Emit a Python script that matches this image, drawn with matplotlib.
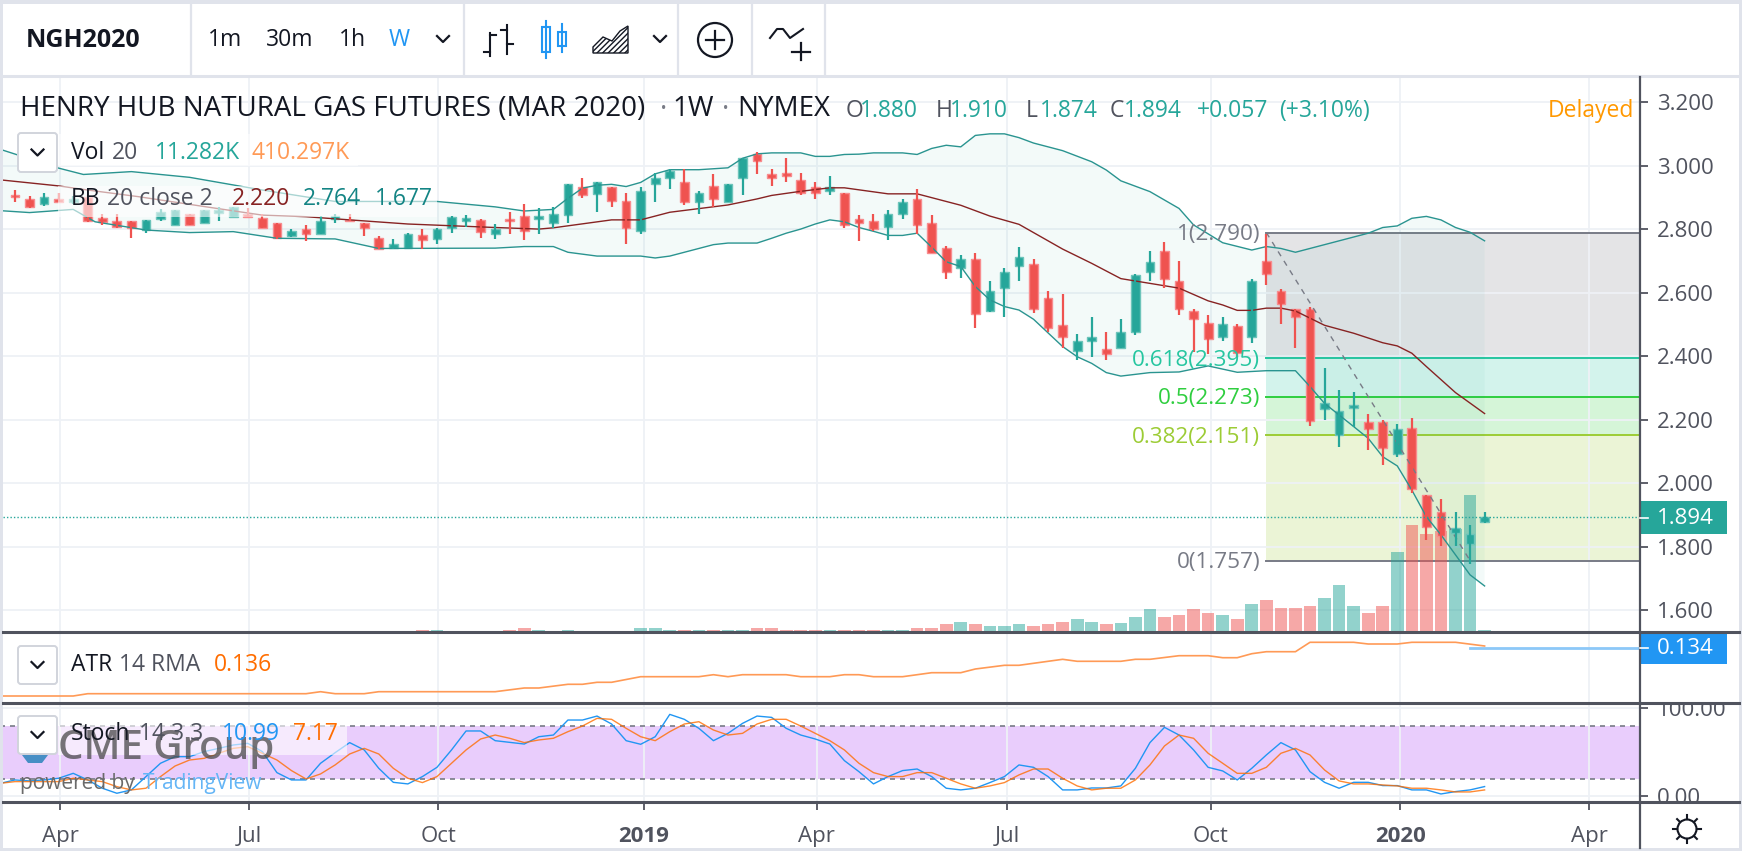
import numpy as np
import matplotlib
matplotlib.use('Agg')
import matplotlib.pyplot as plt
from matplotlib.patches import Rectangle, FancyBboxPatch, Circle

plt.rcParams['font.family'] = ['Open Sans', 'DejaVu Sans']

################### DATOS ###################

opens = [2.908,2.895,2.880,2.897,2.885,2.903,2.835,2.825,2.825,2.798,2.834,2.814,2.848,2.819,2.851,2.838,2.849,2.835,2.819,2.779,2.800,2.786,2.832,2.830,2.819,2.772,2.740,2.742,2.783,2.769,
         2.803,2.828,2.830,2.784,2.832,2.843,2.832,2.820,2.845,2.932,2.910,2.932,2.890,2.796,2.944,2.963,2.949,2.885,2.937,2.885,2.961,3.037,2.973,2.979,2.955,2.932,2.920,2.914,2.832,2.826,
         2.809,2.850,2.896,2.819,2.743,2.679,2.707,2.543,2.614,2.685,2.690,2.583,2.500,2.418,2.448,2.423,2.425,2.477,2.667,2.731,2.636,2.542,2.506,2.460,2.495,2.460,2.702,2.607,2.548,2.548,
         2.235,2.153,2.236,2.194,2.194,2.094,2.176,1.964,1.910,1.845,1.810,1.880]
closes = [2.901,2.870,2.901,2.887,2.897,2.828,2.822,2.809,2.803,2.830,2.855,2.861,2.814,2.861,2.861,2.872,2.838,2.803,2.772,2.795,2.785,2.828,2.843,2.826,2.803,2.739,2.753,2.784,2.767,2.800,
          2.838,2.835,2.792,2.800,2.826,2.796,2.843,2.849,2.943,2.909,2.949,2.891,2.803,2.920,2.961,2.984,2.885,2.914,2.896,2.943,3.025,3.016,2.961,2.968,2.914,2.914,2.932,2.814,2.820,2.802,
          2.849,2.885,2.814,2.726,2.667,2.707,2.532,2.607,2.666,2.713,2.548,2.490,2.460,2.448,2.460,2.407,2.476,2.655,2.696,2.643,2.548,2.518,2.454,2.501,2.412,2.637,2.661,2.566,2.524,2.195,
          2.252,2.229,2.247,2.170,2.112,2.170,1.981,1.864,1.835,1.858,1.840,1.894]
highs = [2.924,2.906,2.914,2.914,2.905,2.908,2.849,2.849,2.825,2.830,2.863,2.861,2.848,2.861,2.870,2.872,2.866,2.849,2.819,2.800,2.814,2.843,2.849,2.848,2.819,2.779,2.769,2.788,2.800,2.803,
         2.843,2.845,2.832,2.817,2.856,2.879,2.867,2.872,2.943,2.961,2.949,2.932,2.914,2.933,2.979,2.990,2.990,2.920,2.974,2.943,3.025,3.043,2.991,3.026,2.979,2.949,2.967,2.914,2.844,2.849,
         2.861,2.896,2.926,2.844,2.749,2.720,2.725,2.637,2.678,2.744,2.707,2.607,2.596,2.471,2.524,2.476,2.518,2.660,2.731,2.761,2.702,2.548,2.531,2.524,2.501,2.643,2.784,2.612,2.548,2.555,
         2.365,2.294,2.288,2.218,2.200,2.187,2.205,1.964,1.951,1.910,1.869,1.910]
lows = [2.885,2.867,2.874,2.885,2.880,2.822,2.814,2.803,2.772,2.790,2.825,2.814,2.814,2.819,2.825,2.838,2.838,2.803,2.769,2.775,2.762,2.784,2.819,2.825,2.779,2.738,2.738,2.740,2.738,2.754,
        2.790,2.809,2.772,2.769,2.785,2.767,2.785,2.804,2.819,2.898,2.856,2.872,2.754,2.785,2.885,2.926,2.878,2.849,2.872,2.885,2.908,2.973,2.938,2.950,2.909,2.897,2.909,2.803,2.762,2.795,
        2.767,2.832,2.785,2.726,2.643,2.648,2.489,2.541,2.525,2.637,2.536,2.478,2.425,2.389,2.399,2.389,2.425,2.466,2.636,2.614,2.531,2.415,2.407,2.448,2.399,2.441,2.625,2.501,2.425,2.182,
        2.200,2.116,2.177,2.105,2.058,2.082,1.969,1.822,1.804,1.804,1.745,1.874]
volume = [0]*28 + [10,10,0,0,0,0,10,20,10,0,10,0,0,0,0,20,20,10,10,10,10,10,10,20,20,10,10,10,10,10,10,8,
          10,10,20,20,40,48,40,30,30,40,30,40,48,67,48,38,47,77,113,77,85,113,93,85,65,140,160,122,122,132,168,235,132,93,132,402,535,488,507,517,683,11.282]

bb_up_w = [-1,3,4.7,8,12,17,22,29,33,35,37,38,39,40,41,42,43,44,45,47,49,50,51,52,54,55,56,57,58,59,61,62,63,64,65,66,67,68,69,70,72,74,75,76,78,80,81,83,85,86,87,88,93,94,95,96,97,98,99,100,101]
bb_up = [3.052,2.993,2.973,2.982,2.964,2.924,2.888,2.888,2.871,2.858,2.863,2.898,2.930,2.939,2.942,2.935,2.948,2.975,2.988,2.988,2.994,3.024,3.038,3.041,3.041,3.030,3.030,3.036,3.037,3.041,3.041,3.036,3.055,3.065,3.060,3.096,3.101,3.101,3.089,3.072,3.048,3.013,2.987,2.953,2.919,2.866,2.814,2.758,2.735,2.746,2.740,2.728,2.788,2.806,2.811,2.835,2.841,2.830,2.806,2.791,2.764]
bb_mid_w = [-1,3,5,8.5,13,17,20,23,27,33,36,37,41,43,45,49,51,52,54,56,57,60,62,65,67,69,72,74,76,78,80,82,83,84,85,86,87,88,90,92,94,95,96,97,99,101]
bb_mid = [2.956,2.937,2.924,2.903,2.872,2.845,2.840,2.830,2.817,2.806,2.801,2.805,2.830,2.830,2.854,2.877,2.896,2.907,2.920,2.931,2.931,2.912,2.912,2.876,2.842,2.816,2.738,2.693,2.645,2.630,2.615,2.575,2.562,2.545,2.545,2.552,2.552,2.543,2.498,2.473,2.443,2.433,2.410,2.368,2.286,2.220]
bb_low_w = [-1,1,4,5.5,9,12,15,18,22,25,33,35,37,38,40,43,44,45,48,49,51,52,53,54,55,56,57,58,59,60,61,62,63,64,65,66,67,68,69,70,72,73,74,75,76,78,80,82,84,86,88,89,90,92,93,94,95,96,97,98,99,100,101]
bb_low = [2.859,2.853,2.863,2.824,2.798,2.790,2.793,2.772,2.770,2.740,2.741,2.746,2.746,2.728,2.716,2.716,2.710,2.716,2.752,2.757,2.757,2.772,2.788,2.801,2.817,2.830,2.824,2.806,2.794,2.781,2.781,2.788,2.744,2.698,2.683,2.620,2.578,2.557,2.546,2.517,2.431,2.399,2.378,2.349,2.338,2.349,2.351,2.370,2.350,2.355,2.355,2.305,2.252,2.179,2.142,2.084,2.055,1.979,1.895,1.838,1.775,1.712,1.677]

atr_w = [-1,4,5,20,21,22,24,25,33,35,36,38,39,40,41,43,47,48,49,50,53,54,56,57,58,59,61,63,65,66,68,69,72,73,76,77,78,80,82,83,84,85,86,88,89,92,93,95,96,99,101]
atr = [0.086,0.086,0.0883,0.0883,0.0903,0.0883,0.0883,0.0903,0.0903,0.094,0.094,0.0977,0.0977,0.0997,0.0997,0.1053,0.1053,0.1073,0.1053,0.1073,0.1073,0.1053,0.1053,0.1073,0.1073,0.1053,0.1053,0.1093,0.1093,0.113,0.1167,0.1167,0.1227,0.1207,0.1207,0.1227,0.1227,0.1263,0.1263,0.1243,0.1243,0.1283,0.1303,0.1303,0.1397,0.1397,0.138,0.138,0.1397,0.1397,0.136]

stoch_k = [14.7,18.5,17.4,18.5,20.4,26.0,18.5,9.1,3.4,7.2,22.3,37.4,44.9,44.9,50.6,54.3,58.1,60.0,50.6,26.8,18.5,18.5,37.4,49.4,60.8,52.5,31.7,15.8,14.0,22.3,32.8,52.5,74.0,74.0,63.0,61.1,59.2,67.5,69.4,86.4,86.4,90.9,81.9,63.0,58.9,67.5,92.8,87.2,77.0,63.0,71.3,82.6,90.9,89.4,77.0,69.4,64.9,59.2,40.4,27.9,
           14.0,22.3,29.1,30.9,22.3,9.1,7.2,9.1,15.5,22.3,35.5,32.8,22.3,7.2,7.2,9.4,9.4,11.7,31.7,60.8,78.1,69.4,52.5,32.8,28.7,18.5,31.7,46.8,60.8,52.5,27.9,15.8,9.1,15.8,15.8,12.1,12.1,7.2,7.2,2.6,5.3,7.2,10.99]
stoch_d = [14.7,16.6,16.6,16.6,16.6,20.4,18.5,16.6,10.9,7.2,9.1,22.3,34.3,41.1,43.0,48.7,54.3,56.2,48.7,41.1,29.1,19.6,25.3,35.5,47.9,54.3,47.9,31.7,20.4,15.5,22.3,37.4,52.5,64.9,69.4,65.7,60.8,63.8,65.7,73.2,79.6,88.3,87.2,77.0,67.5,63.0,73.2,81.9,84.5,75.1,69.4,71.3,81.9,87.2,87.2,79.6,71.3,63.0,52.5,37.4,
           26.8,22.3,22.3,26.8,26.8,20.4,14.0,9.1,11.7,15.5,24.2,30.9,30.9,20.4,11.7,7.2,9.1,9.1,18.5,35.5,57.0,69.4,65.7,48.7,37.4,26.0,26.0,32.8,48.7,54.3,46.8,29.8,17.4,14.0,14.0,12.8,11.7,9.1,9.1,7.2,4.9,4.9,7.17]

fib_levels = [2.790, 2.395, 2.273, 2.151, 1.757]
fib_ratios = ['1', '0.618', '0.5', '0.382', '0']
fib_colors = ['#787b86', '#26c6a0', '#2fce3f', '#9ccc35', '#787b86']

price_ticks = [3.2, 3.0, 2.8, 2.6, 2.4, 2.2, 2.0, 1.8, 1.6]
time_ticks = [3.1, 16.1, 29.1, 43.2, 55.1, 68.2, 82.2, 95.2, 108.2]
time_labels = ['Apr', 'Jul', 'Oct', '2019', 'Apr', 'Jul', 'Oct', '2020', 'Apr']

last_price = 1.894
last_atr = 0.134

################### FIGURA ###################

W, H = 1746, 856
RED, GREEN = '#ef5350', '#26a69a'
GRIDC = '#eef1f6'
AXC = '#50535e'
AXIS_X = 1640
EDGE_X = 1739

fig = plt.figure(figsize=(W/100, H/100), dpi=100, facecolor='white')

def panel(y0, y1, z):
    # ejes a partir de pixeles de la imagen
    a = fig.add_axes([3/W, 1-y1/H, (AXIS_X-3)/W, (y1-y0)/H], zorder=z)
    a.patch.set_alpha(0)
    for s in a.spines.values():
        s.set_visible(False)
    a.set_xlim(-0.825, 111.68)
    return a

weeks = np.arange(len(closes))
up = [c >= o for o, c in zip(opens, closes)]
cols = [GREEN if u else RED for u in up]

# Fondo: rejilla y fibonacci
back = panel(77, 632, 1)
back.set_ylim(1.532, 3.280)
back.set_yticks([]); back.set_xticks([])
back.hlines(price_ticks, -1, 112, color=GRIDC, lw=1.3)
back.vlines(time_ticks, 1.5, 3.3, color=GRIDC, lw=1.3)
fills = ['#787b86', '#26c6a0', '#2fce3f', '#9ccc35']
for k in range(4):
    back.fill_between([86, 112], fib_levels[k+1], fib_levels[k], color=fills[k], alpha=0.2, lw=0)
for lev, c in zip(fib_levels, fib_colors):
    back.plot([86, 112], [lev, lev], color=c, lw=1.4)

# Volumen
vol = panel(77, 632, 2)
vol.set_ylim(0, 2775)
vol.set_yticks([]); vol.set_xticks([])
vol.bar(weeks, volume, width=0.87, color=cols, alpha=0.5, lw=0)

# Precio
ax = panel(77, 632, 3)
ax.set_ylim(1.532, 3.280)
ax.fill(np.r_[bb_up_w, bb_low_w[::-1]], np.r_[bb_up, bb_low[::-1]], color=GREEN, alpha=0.05, lw=0)
ax.plot(bb_up_w, bb_up, color='#2a9490', lw=1.0)
ax.plot(bb_low_w, bb_low, color='#2a9490', lw=1.0)
ax.plot(bb_mid_w, bb_mid, color='#872323', lw=1.0)
ax.plot([86, 100], [2.790, 1.757], color='#787b86', lw=1.0, ls=(0, (4, 4)))
ax.vlines(weeks, lows, highs, color=cols, lw=1.6)
body_b = np.minimum(opens, closes)
body_h = np.abs(np.array(opens) - np.array(closes))
edge = ['#6cc4ba' if u else '#f88c8f' for u in up]
ax.bar(weeks, body_h, bottom=body_b, width=0.6, color=cols, edgecolor=edge, lw=1.0)
ax.axhline(last_price, color=GREEN, lw=1, ls=(0, (1, 1.5)))
ax.yaxis.tick_right()
ax.set_yticks(price_ticks)
ax.set_yticklabels(['%.3f' % p for p in price_ticks], fontsize=16, color=AXC)
ax.tick_params(axis='y', length=6, width=1.3, color=AXC, pad=6)
ax.set_xticks([])

# ATR
pa = panel(633, 703, 3)
pa.set_ylim(0.079, 0.149)
pa.set_yticks([]); pa.set_xticks([])
pa.vlines(time_ticks, 0, 1, color=GRIDC, lw=1.3)
pa.plot(atr_w, atr, color='#ff9a56', lw=1.2)
pa.plot([100, 112], [last_atr, last_atr], color='#8cc8f8', lw=2)

# Estocastico
ps = panel(703, 802, 3)
ps.set_ylim(-6.5, 105.7)
ps.hlines([0, 100], -1, 112, color=GRIDC, lw=1.3)
ps.vlines(time_ticks, -10, 110, color=GRIDC, lw=1.3)
ps.axhspan(20, 80, color='#e9cdfc', lw=0)
ps.hlines([20, 80], -1, 112, color='#787b86', lw=1.2, ls=(0, (3, 3)))
ps.plot(np.arange(-1, 102), stoch_k, color='#2196f3', lw=1.0)
ps.plot(np.arange(-1, 102), stoch_d, color='#ff6d00', lw=1.0, alpha=0.8)
ps.yaxis.tick_right()
ps.set_yticks([0, 100])
ps.set_yticklabels(['0.00', '100.00'], fontsize=16, color=AXC)
ps.tick_params(axis='y', length=6, width=1.3, color=AXC, pad=6)
ps.set_xticks(time_ticks)
ps.set_xticklabels(time_labels, fontsize=16, color=AXC)
for lab in ps.get_xticklabels():
    if lab.get_text().startswith('20'):
        lab.set_fontweight('bold')
ps.tick_params(axis='x', length=6, width=1.3, color=AXC, pad=11)

################### CAPA SUPERIOR EN PIXELES ###################

ov = fig.add_axes([0, 0, 1, 1], zorder=6)
ov.set_xlim(0, W); ov.set_ylim(H, 0)
ov.axis('off')

def txt(x, y, s, c='#131722', size=16.5, **kw):
    ov.text(x, y+3, s, color=c, fontsize=size, va='center', **kw)

def chevron(x, y, c='#131722', w=6):
    ov.plot([x-w, x, x+w], [y-3, y+3, y-3], color=c, lw=1.6)

# marcos
ov.add_patch(Rectangle((0, 0), W, 4, color='#e0e3eb', lw=0))
ov.add_patch(Rectangle((0, 848), EDGE_X+3, 3, color='#e0e3eb', lw=0))
ov.add_patch(Rectangle((0, 0), 3, 851, color='#e0e3eb', lw=0))
ov.add_patch(Rectangle((EDGE_X, 0), 3, 851, color='#e0e3eb', lw=0))
ov.add_patch(Rectangle((EDGE_X+3, 0), W-EDGE_X-3, H, color='white', lw=0))
ov.add_patch(Rectangle((3, 4), EDGE_X-3, 71, color='white', lw=0))
ov.plot([0, EDGE_X], [76, 76], color='#e0e3eb', lw=2.2)
ov.vlines([190.5, 464, 678, 752, 825], 4, 75, color='#e0e3eb', lw=1.6)

# recortes de etiquetas del eje derecho
ov.add_patch(Rectangle((1643, 664), 96, 38, color='white', lw=0))
ov.add_patch(Rectangle((1643, 803), 96, 12, color='white', lw=0))

# barra de herramientas
txt(26, 37, 'NGH2020', size=18, fontweight='bold')
txt(225, 37, '1m', size=16.5, ha='center')
txt(290, 37, '30m', size=16.5, ha='center')
txt(352, 37, '1h', size=16.5, ha='center')
txt(399, 37, 'W', c='#2196f3', size=16.5, ha='center')
chevron(443, 39)
chevron(660, 39)
# icono barras
ov.plot([490, 490], [33, 56], color='#131722', lw=1.5)
ov.plot([484, 490], [52, 52], color='#131722', lw=1.5)
ov.plot([490, 496], [35, 35], color='#131722', lw=1.5)
ov.plot([507, 507], [25, 54], color='#131722', lw=1.5)
ov.plot([501, 507], [30, 30], color='#131722', lw=1.5)
ov.plot([507, 513], [44, 44], color='#131722', lw=1.5)
# icono velas
ov.plot([546, 546], [21, 58], color='#2196f3', lw=1.5)
ov.add_patch(Rectangle((542, 27), 8, 25, fc='white', ec='#2196f3', lw=1.5))
ov.plot([562, 562], [24, 52], color='#2196f3', lw=1.5)
ov.add_patch(Rectangle((558, 32), 8, 14, fc='white', ec='#2196f3', lw=1.5))
# icono area
ov.fill([593, 603, 612, 620, 628, 628, 593], [47, 37, 41, 31, 26, 53, 53], fc='white', ec='#131722', lw=1.0, hatch='//////')
# icono indicadores
ov.add_patch(Circle((715, 40), 17, fc='white', ec='#131722', lw=1.6))
ov.plot([706, 724], [40, 40], color='#131722', lw=1.6)
ov.plot([715, 715], [31, 49], color='#131722', lw=1.6)
# icono comparar
ov.plot([770, 777, 783, 790, 803], [38, 29, 29, 38, 29], color='#131722', lw=1.5)
ov.plot([792, 810], [52, 52], color='#131722', lw=1.6)
ov.plot([801, 801], [43, 60], color='#131722', lw=1.6)

# titulo y leyendas
txt(20, 106, 'HENRY HUB NATURAL GAS FUTURES (MAR 2020)', size=20)
txt(660, 107, '·', c='#787b86', size=20)
txt(672, 106, '1W', size=20)
txt(722, 107, '·', c='#787b86', size=20)
txt(737, 106, 'NYMEX', size=20)
OHL = [(846, 'O', '1.880'), (936, 'H', '1.910'), (1026, 'L', '1.874'), (1110, 'C', '1.894')]
for x, a, b in OHL:
    txt(x, 108, a, c='#50535e')
    txt(x+14, 108, b, c=GREEN)
txt(1197, 108, '+0.057', c=GREEN)
txt(1279, 108, '(+3.10%)', c=GREEN)
txt(1548, 108, 'Delayed', c='#ff9800')

# velos blancos detras de las leyendas
ov.add_patch(Rectangle((58, 134), 300, 32, color='white', alpha=0.6, lw=0))
ov.add_patch(Rectangle((58, 186), 379, 31, color='white', alpha=0.6, lw=0))
ov.add_patch(Rectangle((58, 725), 289, 30, color='white', alpha=0.6, lw=0))

txt(71, 150, 'Vol')
txt(112, 150, '20', c='#50535e')
txt(155, 150, '11.282K', c=GREEN)
txt(252, 150, '410.297K', c='#ff9a56')
txt(71, 196, 'BB')
txt(107, 196, '20 close 2', c='#50535e')
txt(232, 196, '2.220', c='#872323')
txt(303, 196, '2.764', c='#138484')
txt(375, 196, '1.677', c='#138484')
txt(71, 662, 'ATR')
txt(119, 662, '14 RMA', c='#50535e')
txt(214, 662, '0.136', c='#ff6d00')

# logo
txt(58, 746, 'CME Group', c='#4a4a4a', size=29, alpha=0.75, fontweight='semibold')
ov.fill([22, 48, 42, 28], [755, 755, 763, 763], color='#1f7fb8', alpha=0.8, lw=0)
txt(20, 781, 'powered by', c='#6a6a6a', size=15)
txt(143, 781, 'TradingView', c='#64b5f6', size=15)

txt(71, 731, 'Stoch')
txt(139, 731, '14 3 3', c='#50535e')
txt(222, 731, '10.99', c='#2196f3')
txt(293, 731, '7.17', c='#ff6d00')

# cajas desplegables
for y0, y1 in [(133, 172), (646, 684), (716, 754)]:
    ov.add_patch(FancyBboxPatch((21, y0+3), 33, y1-y0-6, boxstyle='round,pad=3', fc='white', ec='#d1d4dc', lw=1.4))
    chevron(37.5, (y0+y1)/2)

# etiquetas fibonacci
for lab, lev, c in zip(fib_ratios, fib_levels, fib_colors):
    yy = 102.5 + (3.2-lev)*317.5
    txt(1260, yy-1, '%s(%.3f)' % (lab, lev), c=c, size=16.2, ha='right')

# separadores de paneles y eje derecho
ov.plot([3, EDGE_X], [632, 632], color=AXC, lw=2.2)
ov.plot([3, EDGE_X], [703, 703], color=AXC, lw=2.2)
ov.plot([3, EDGE_X], [802, 802], color=AXC, lw=2.2)
ov.plot([AXIS_X, AXIS_X], [77, 848], color=AXC, lw=1.6)

# etiquetas de ultimo valor
ov.add_patch(Rectangle((AXIS_X, 501), 87, 33, color=GREEN, lw=0))
ov.plot([AXIS_X, AXIS_X+8], [518, 518], color='white', lw=1.2)
txt(1657, 515, '%.3f' % last_price, c='white', size=16)
ov.add_patch(Rectangle((AXIS_X, 634), 87, 30, color='#2196f3', lw=0))
ov.plot([AXIS_X, AXIS_X+8], [648, 648], color='white', lw=1.2)
txt(1657, 645, '%.3f' % last_atr, c='white', size=16)

# icono ajustes
ov.add_patch(Circle((1687, 829), 9.5, fc='white', ec='#131722', lw=1.5))
for a in np.arange(0, 360, 45):
    r = np.radians(a)
    ov.plot([1687+10*np.cos(r), 1687+14*np.cos(r)], [829+10*np.sin(r), 829+14*np.sin(r)], color='#131722', lw=1.5)

fig.savefig('out.png', dpi=100)
